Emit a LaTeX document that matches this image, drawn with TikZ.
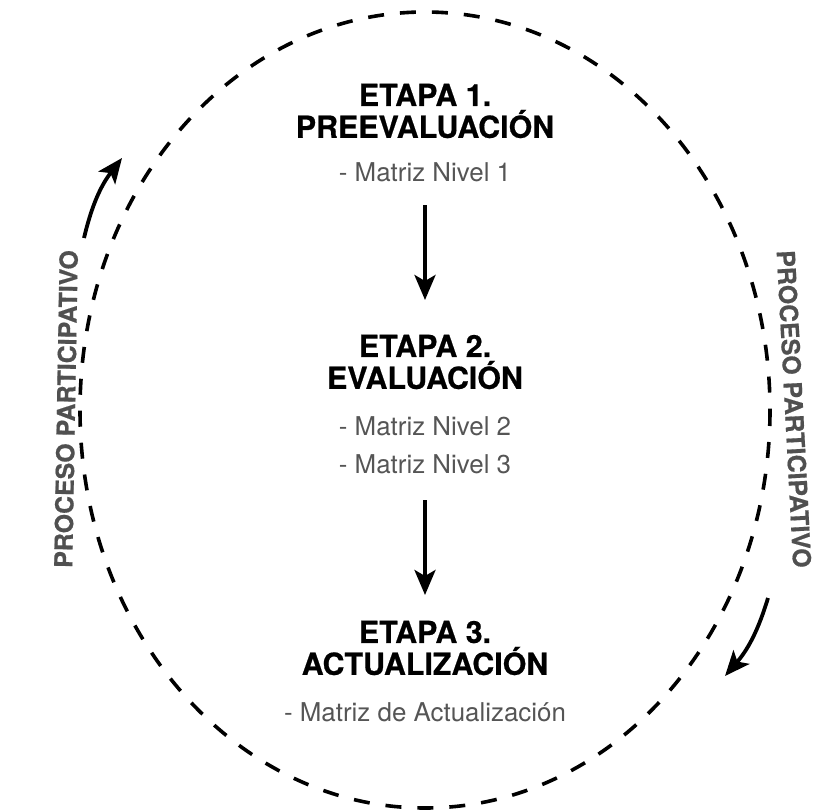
\documentclass[tikz,border=0pt]{standalone}
\usepackage{fontspec}
\newfontfamily\hv{TeX Gyre Heros}[BoldFeatures={FakeBold=0.6}]
\usetikzlibrary{arrows.meta}
\definecolor{itemgray}{HTML}{555555}
\definecolor{sidegray}{HTML}{505050}
\tikzset{
  title/.style={font=\hv\bfseries\fontsize{30.5}{32}\selectfont, align=center, inner sep=0pt, text=black},
  item/.style={font=\hv\fontsize{26}{28}\selectfont, inner sep=0pt, text=itemgray},
  side/.style={font=\hv\bfseries\fontsize{25}{29}\selectfont, inner sep=0pt, text=sidegray},
  flow/.style={line width=3.8bp, -{Stealth[length=25bp, width=21bp, inset=6bp]}},
  cyc/.style={line width=3.8bp, -{Stealth[length=25bp, width=21bp, inset=6bp]}},
  ring/.style={line width=3.6bp, dash pattern=on 16bp off 16bp}
}
\begin{document}
\begin{tikzpicture}[x=1bp, y=-1bp]
\useasboundingbox (0,0) rectangle (827,811);
\draw[ring] (425,410) ellipse [x radius=345, y radius=398];

\node[title] (t1) at (425,111) {ETAPA 1.\\PREEVALUACIÓN};
\node[item] (m1) at (425,172) {- Matriz Nivel 1};

\node[title] (t2) at (425,362) {ETAPA 2.\\EVALUACIÓN};
\node[item] (m2) at (425,426) {- Matriz Nivel 2};
\node[item] (m3) at (425,464) {- Matriz Nivel 3};

\node[title] (t3) at (425,648) {ETAPA 3.\\ACTUALIZACIÓN};
\node[item] (m4) at (425,712) {- Matriz de Actualización};

\coordinate (a1s) at (425,205);
\coordinate (a1e) at (425,300);
\coordinate (a2s) at (425,500);
\coordinate (a2e) at (425,595);
\draw[flow] (a1s) -- (a1e);
\draw[flow] (a2s) -- (a2e);

\node[side, rotate=89] (s1) at (66,409) {PROCESO PARTICIPATIVO};
\node[side, rotate=-87] (s2) at (794,409) {PROCESO PARTICIPATIVO};

\coordinate (c1s) at (84,238);
\coordinate (c1e) at (122,158);
\coordinate (c2s) at (768,598);
\coordinate (c2e) at (725,676);
\draw[cyc] (c1s) to[bend left=12] (c1e);
\draw[cyc] (c2s) to[bend left=12] (c2e);
\end{tikzpicture}
\end{document}
